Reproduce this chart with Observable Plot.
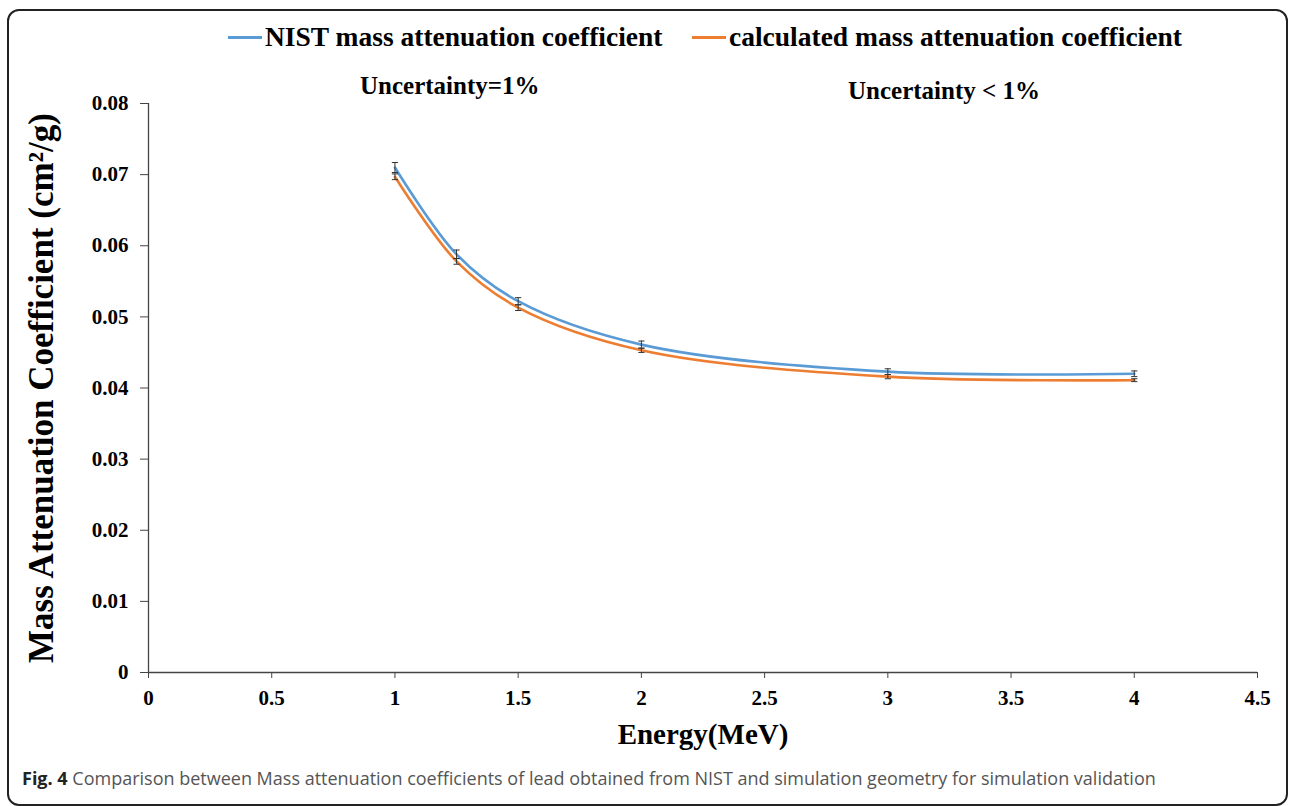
<!DOCTYPE html>
<html>
<head>
<meta charset="utf-8">
<script src="https://cdn.jsdelivr.net/npm/d3@7"></script>
<script src="https://cdn.jsdelivr.net/npm/@observablehq/plot@0.6"></script>
<style>
  html, body { margin: 0; padding: 0; background: #fff; }
  #page { position: relative; width: 1292px; height: 806px; overflow: hidden; background: #fff; }
  #frame { position: absolute; left: 7px; top: 9px; width: 1281px; height: 797px; border: 2px solid #222; border-radius: 12px; box-sizing: border-box; pointer-events: none; }
  #chart { position: absolute; left: 0; top: 0; }
  .serif { font-family: "Liberation Serif", "Times New Roman", serif; font-weight: bold; color: #000; }
  .leg { position: absolute; top: 21px; font-size: 27.5px; white-space: nowrap; line-height: 32px; display: flex; align-items: center; }
  .swatch { display: inline-block; width: 34px; height: 3px; margin-right: 3px; }
  .note { position: absolute; font-size: 25px; white-space: nowrap; line-height: 28px; }
  #caption { position: absolute; left: 22px; top: 766px; font-family: "Open Sans", sans-serif; font-size: 18px; color: #555; white-space: nowrap; }
  #caption b { color: #222; }
</style>
</head>
<body>
<div id="page">
  <div id="chart"></div>
  <div class="leg serif" id="leg1" style="left:228px"><span class="swatch" style="background:#5B9BD5"></span>NIST mass attenuation coefficient</div>
  <div class="leg serif" id="leg2" style="left:692px"><span class="swatch" style="background:#ED7D31"></span>calculated mass attenuation coefficient</div>
  <div class="note serif" style="left:360px; top:72px">Uncertainty=1%</div>
  <div class="note serif" style="left:848px; top:77px">Uncertainty &lt; 1%</div>
  <div id="caption"><b>Fig. 4</b> Comparison between Mass attenuation coefficients of lead obtained from NIST and simulation geometry for simulation validation</div>
  <div id="frame"></div>
</div>
<script>
// Data
const energy = [1, 1.25, 1.5, 2, 3, 4];
const nist = [0.0710, 0.0588, 0.0522, 0.0461, 0.0423, 0.0420];
const calculated = [0.0697, 0.0578, 0.0513, 0.0453, 0.0416, 0.0411];
const nistErr = [0.0007, 0.0006, 0.0005, 0.0005, 0.0004, 0.0004];
const calcErr = [0.0004, 0.0004, 0.0004, 0.0003, 0.0003, 0.0002];
const xTicks = [0, 0.5, 1, 1.5, 2, 2.5, 3, 3.5, 4, 4.5];
const yTicks = [0, 0.01, 0.02, 0.03, 0.04, 0.05, 0.06, 0.07, 0.08];
const xTitle = "Energy(MeV)";
const yTitle = "Mass Attenuation Coefficient (cm²/g)";

const series = [
  {name: "NIST mass attenuation coefficient", values: nist, err: nistErr},
  {name: "calculated mass attenuation coefficient", values: calculated, err: calcErr}
];
const rows = series.flatMap(s => energy.map((e, i) => ({
  series: s.name, energy: e, value: s.values[i], lo: s.values[i] - s.err[i], hi: s.values[i] + s.err[i]
})));

const capSymbol = { draw(ctx, size) { const r = Math.sqrt(size) / 2; ctx.moveTo(-r, 0); ctx.lineTo(r, 0); } };
const serif = "'Liberation Serif', 'Times New Roman', serif";

const chart = Plot.plot({
  width: 1292,
  height: 760,
  marginLeft: 148,
  marginRight: 35,
  marginTop: 103,
  marginBottom: 88,
  style: { fontFamily: serif, fontWeight: "bold", fontSize: "21px", color: "#000", background: "transparent" },
  x: { domain: [0, 4.5], ticks: xTicks },
  y: { domain: [0, 0.08], ticks: yTicks },
  color: { domain: series.map(s => s.name), range: ["#5B9BD5", "#ED7D31"] },
  marks: [
    Plot.ruleY([0], { stroke: "#444", strokeWidth: 1.3 }),
    Plot.ruleX([0], { stroke: "#444", strokeWidth: 1.3 }),
    Plot.axisX({ ticks: xTicks, tickSize: 6, tickPadding: 12, stroke: "#444", tickFormat: d => String(d), fontSize: 21, fontWeight: "bold", label: null }),
    Plot.axisY({ ticks: yTicks, tickSize: 8, tickPadding: 12, stroke: "#444", tickFormat: d => d === 0 ? "0" : d.toFixed(2), fontSize: 21, fontWeight: "bold", label: null }),
    Plot.text([yTitle], { frameAnchor: "left", dx: -107, rotate: -90, textAnchor: "middle", lineAnchor: "middle", fontSize: 35, fontWeight: "bold", fill: "#000", text: d => d }),
    Plot.text([xTitle], { frameAnchor: "bottom", dy: 62, textAnchor: "middle", lineAnchor: "middle", fontSize: 29, fontWeight: "bold", fill: "#000", text: d => d }),
    Plot.line(rows, { x: "energy", y: "value", stroke: "series", strokeWidth: 2.6, curve: "catmull-rom" }),
    Plot.ruleX(rows, { x: "energy", y1: "lo", y2: "hi", stroke: "#333", strokeWidth: 1 }),
    Plot.dot(rows, { x: "energy", y: "lo", symbol: capSymbol, r: 3.5, stroke: "#333", strokeWidth: 1, fill: "none" }),
    Plot.dot(rows, { x: "energy", y: "hi", symbol: capSymbol, r: 3.5, stroke: "#333", strokeWidth: 1, fill: "none" })
  ]
});
document.getElementById("chart").appendChild(chart);
</script>
</body>
</html>
